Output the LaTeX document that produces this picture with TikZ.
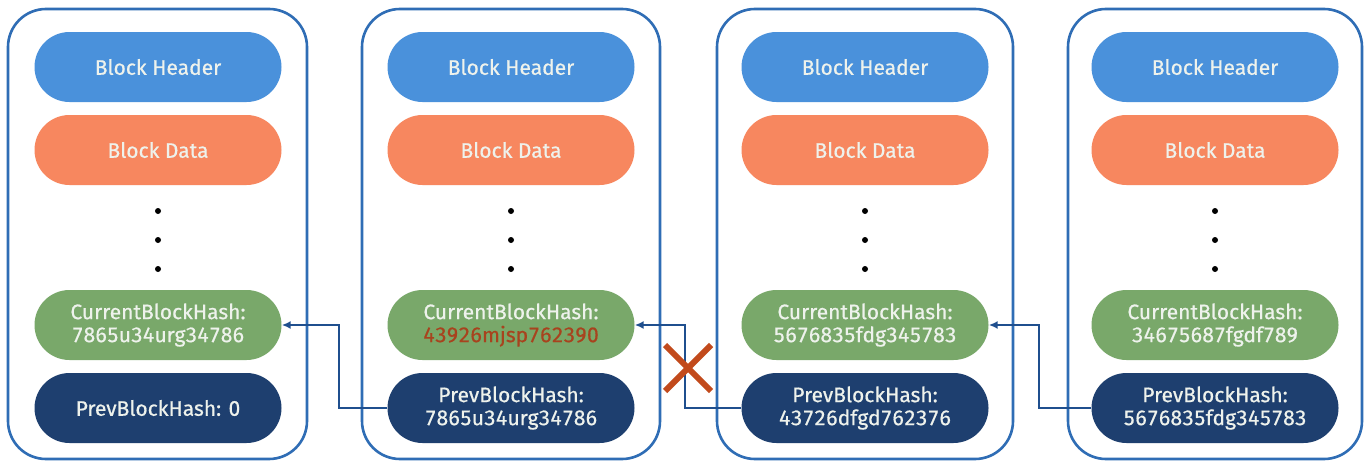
\documentclass[tikz,border=0pt]{standalone}
\usepackage{fontspec}
\setmainfont{Fira Sans}[Numbers={Lining,Monospaced}, FakeBold=0.6]
\usetikzlibrary{arrows.meta}
\definecolor{frameblue}{HTML}{2F6DB5}
\definecolor{hdrblue}{HTML}{4A91DB}
\definecolor{dataorange}{HTML}{F7875F}
\definecolor{hashgreen}{HTML}{79A86A}
\definecolor{prevnavy}{HTML}{1E3F6F}
\definecolor{linkblue}{HTML}{1F4F8E}
\definecolor{crossred}{HTML}{C24A1C}
\definecolor{badhash}{HTML}{A8431E}
\definecolor{pilltext}{HTML}{EEF2EC}
\tikzset{
  blockframe/.style={draw=frameblue, line width=2.6pt, rounded corners=38pt},
  pill/.style={minimum width=247pt, minimum height=70pt, rounded corners=35pt,
     text=pilltext, align=center, inner sep=0pt,
     font=\fontsize{21}{23}\selectfont},
  hdr/.style={pill, fill=hdrblue},
  dat/.style={pill, fill=dataorange},
  cur/.style={pill, fill=hashgreen},
  prv/.style={pill, fill=prevnavy},
  dotmark/.style={fill=black, circle, inner sep=0pt, minimum size=6pt},
  link/.style={draw=linkblue, line width=2.2pt, -{Latex[length=9pt,width=8pt]}},
  crossline/.style={draw=crossred, line width=6pt},
}
\begin{document}
\begin{tikzpicture}[x=1pt,y=-1pt]
\useasboundingbox (0,0) rectangle (1370,463);
\fill[white] (0,0) rectangle (1370,463);
% frames
\draw[blockframe] (8,9) rectangle (307,459);
\draw[blockframe] (362,9) rectangle (660,459);
\draw[blockframe] (717,9) rectangle (1013,459);
\draw[blockframe] (1068,9) rectangle (1362,459);
% block 1
\node[hdr] (h1) at (158,67) {Block Header};
\node[dat] (d1) at (158,150) {Block Data};
\node[dotmark] (a1) at (158,211) {};
\node[dotmark] (b1) at (158,240) {};
\node[dotmark] (e1) at (158,269) {};
\node[cur] (c1) at (158,325) {CurrentBlockHash:\\7865u34urg34786};
\node[prv] (p1) at (158,408) {PrevBlockHash: 0};
% block 2
\node[hdr] (h2) at (511,67) {Block Header};
\node[dat] (d2) at (511,150) {Block Data};
\node[dotmark] (a2) at (511,211) {};
\node[dotmark] (b2) at (511,240) {};
\node[dotmark] (e2) at (511,269) {};
\node[cur] (c2) at (511,325) {CurrentBlockHash:\\\textcolor{badhash}{43926mjsp762390}};
\node[prv] (p2) at (511,408) {PrevBlockHash:\\7865u34urg34786};
% block 3
\node[hdr] (h3) at (865,67) {Block Header};
\node[dat] (d3) at (865,150) {Block Data};
\node[dotmark] (a3) at (865,211) {};
\node[dotmark] (b3) at (865,240) {};
\node[dotmark] (e3) at (865,269) {};
\node[cur] (c3) at (865,325) {CurrentBlockHash:\\5676835fdg345783};
\node[prv] (p3) at (865,408) {PrevBlockHash:\\43726dfgd762376};
% block 4
\node[hdr] (h4) at (1215,67) {Block Header};
\node[dat] (d4) at (1215,150) {Block Data};
\node[dotmark] (a4) at (1215,211) {};
\node[dotmark] (b4) at (1215,240) {};
\node[dotmark] (e4) at (1215,269) {};
\node[cur] (c4) at (1215,325) {CurrentBlockHash:\\34675687fgdf789};
\node[prv] (p4) at (1215,408) {PrevBlockHash:\\5676835fdg345783};
% links
\draw[link] (p2.west) -- ++(-48,0) |- (c1.east);
\draw[link] (p3.west) -- ++(-56,0) |- (c2.east);
\draw[link] (p4.west) -- ++(-52,0) |- (c3.east);
% broken link mark
\coordinate (x0) at (688,368);
\draw[crossline] ([shift={(-23,-23)}]x0) -- ([shift={(23,23)}]x0);
\draw[crossline] ([shift={(-23,23)}]x0) -- ([shift={(23,-23)}]x0);
\end{tikzpicture}
\end{document}
